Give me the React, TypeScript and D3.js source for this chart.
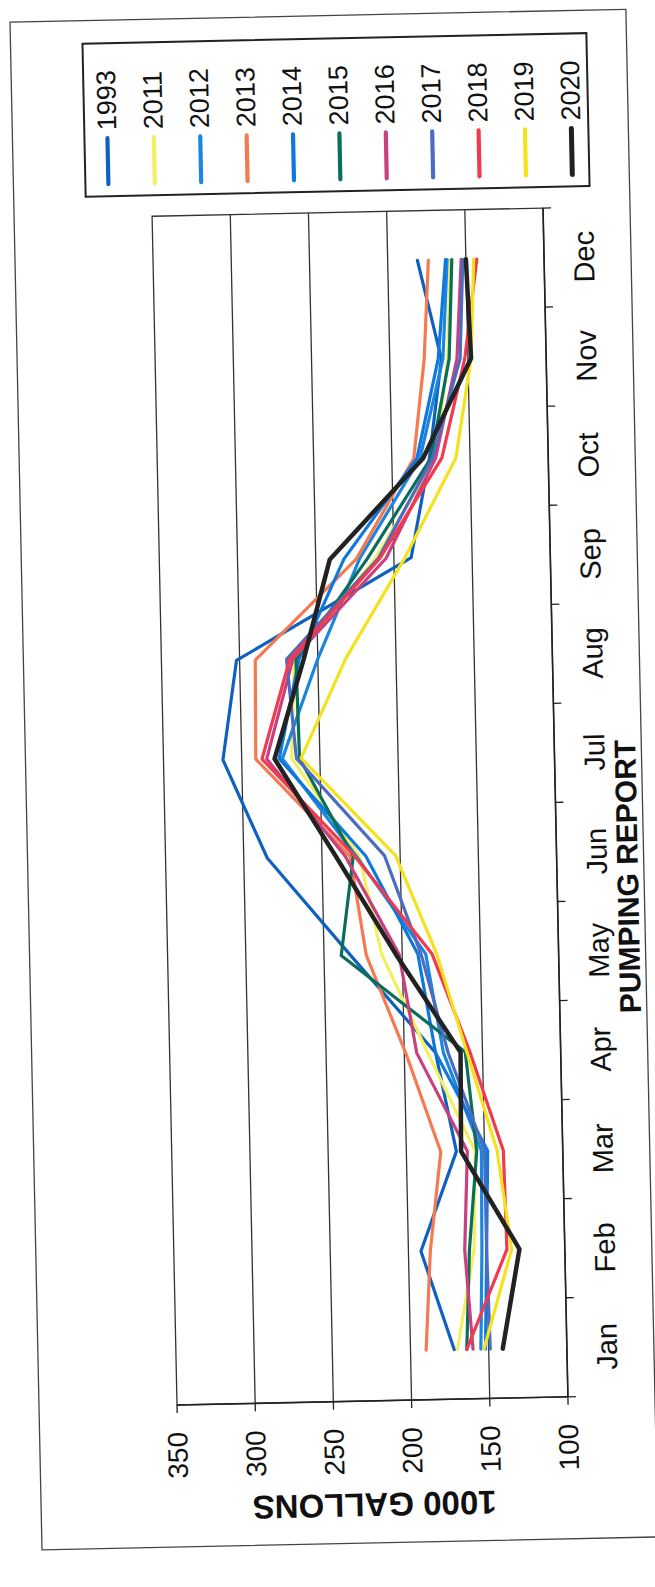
import React from "react";
import * as d3 from "d3";

const months = ["Jan", "Feb", "Mar", "Apr", "May", "Jun", "Jul", "Aug", "Sep", "Oct", "Nov", "Dec"];
const seriesNames = ["1993", "2011", "2012", "2013", "2014", "2015", "2016", "2017", "2018", "2019", "2020"];
const seriesColors = ["#1060c0", "#f2f060", "#1a86e0", "#f57a52", "#0f78dc", "#0b6e5a", "#c8407e", "#4b6cbf", "#f23a4e", "#f5e21c", "#222222"];

const v1993 = [172, 192, 168, 180, 233, 285, 312, 302, 189, 176, 167, 181];
const v2011 = [170, 158, 156, 185, 213, 226, 268, 265, 212, 172, 163, 160];
const v2012 = [155, 153, 152, 175, 185, 228, 274, 250, 222, 182, 166, 162];
const v2013 = [190, 186, 178, 199, 223, 232, 291, 290, 224, 186, 178, 174];
const v2014 = [152, 150, 148, 180, 190, 222, 276, 262, 232, 184, 169, 163];
const v2015 = [164, 161, 155, 161, 239, 230, 263, 264, 217, 175, 162, 159];
const v2016 = [160, 164, 161, 192, 202, 235, 284, 266, 205, 172, 157, 153];
const v2017 = [149, 150, 150, 172, 188, 210, 265, 270, 210, 174, 155, 152];
const v2018 = [164, 137, 138, 158, 181, 229, 287, 268, 209, 168, 152, 143];
const v2019 = [153, 134, 142, 160, 178, 203, 262, 232, 193, 159, 148, 145];
const v2020 = [141, 129, 165, 164, 204, 241, 279, 259, 241, 180, 148, 150];

const seriesValues = [v1993, v2011, v2012, v2013, v2014, v2015, v2016, v2017, v2018, v2019, v2020];
const valueTicks = [100, 150, 200, 250, 300, 350];
const gridValues = [150, 200, 250, 300];

const FONT = "'Liberation Sans', Arial, sans-serif";

export default function App() {
  const W = 655;
  const H = 1587;
  const OX = 177;
  const OY = 1405;
  const ANGLE = -91.2;
  const PW = 1189;
  const PH = 391;

  const x = d3.scaleBand<string>().domain(months).range([0, PW]);
  const y = d3.scaleLinear().domain([100, 350]).range([PH, 0]);
  const cx = (i: number) => (x(months[i]) as number) + x.bandwidth() / 2;
  const line = d3
    .line<number>()
    .x((_, i) => cx(i))
    .y((d) => y(d));

  const boundaries = d3.range(0, months.length + 1).map((i) => i * x.bandwidth());
  const legendStep = 46.4;
  const legendW0 = -43;

  return (
    <svg
      width={W}
      height={H}
      style={{ position: "absolute", left: 0, top: 0, display: "block", background: "#fff" }}
      fontFamily={FONT}
    >
      <rect x={0} y={0} width={W} height={H} fill="#fff" />
      <g transform={`translate(${OX},${OY}) rotate(${ANGLE})`}>
        {/* chart frame */}
        <rect x={-142} y={-138} width={1386 + 142} height={478 + 138} fill="none" stroke="#444" strokeWidth={1.3} />

        {/* plot area */}
        <rect x={0} y={0} width={PW} height={PH} fill="#fff" stroke="#333" strokeWidth={1.3} />
        {gridValues.map((v) => (
          <line key={v} x1={0} x2={PW} y1={y(v)} y2={y(v)} stroke="#333" strokeWidth={1.3} />
        ))}
        {/* category axis */}
        <line x1={0} x2={PW} y1={PH} y2={PH} stroke="#222" strokeWidth={1.6} />
        {boundaries.map((b, i) => (
          <line key={i} x1={b} x2={b} y1={PH} y2={PH + 8} stroke="#222" strokeWidth={1.3} />
        ))}
        {months.map((m, i) => (
          <text key={m} x={cx(i)} y={PH + 50} textAnchor="middle" fontSize={29} fill="#111">
            {m}
          </text>
        ))}
        {/* value axis */}
        <line x1={0} x2={0} y1={0} y2={PH} stroke="#222" strokeWidth={1.6} />
        {valueTicks.map((v) => (
          <g key={v}>
            <line x1={-8} x2={0} y1={y(v)} y2={y(v)} stroke="#222" strokeWidth={1.3} />
            <text x={-27} y={y(v)} textAnchor="end" dominantBaseline="central" fontSize={28} fill="#111">
              {v}
            </text>
          </g>
        ))}
        <text
          transform={`translate(-104,${PH / 2}) rotate(-90)`}
          textAnchor="middle"
          dominantBaseline="central"
          fontSize={33}
          fontWeight="bold"
          fill="#111"
        >
          1000 GALLONS
        </text>

        {/* series */}
        {seriesValues.map((vals, k) => (
          <path
            key={seriesNames[k]}
            d={line(vals) || ""}
            fill="none"
            stroke={seriesColors[k]}
            strokeWidth={seriesNames[k] === "2020" ? 4.5 : 3.2}
            strokeLinejoin="round"
            strokeLinecap="round"
          />
        ))}

        {/* legend */}
        <rect x={1210} y={-66} width={1363 - 1210} height={438 + 66} fill="#fff" stroke="#222" strokeWidth={2} />
        {seriesNames.map((name, k) => {
          const wy = legendW0 + k * legendStep;
          return (
            <g key={name}>
              <line
                x1={1222}
                x2={1268}
                y1={wy}
                y2={wy}
                stroke={seriesColors[k]}
                strokeWidth={name === "2020" ? 5 : 4.2}
                strokeLinecap="round"
              />
              <text x={1276} y={wy} dominantBaseline="central" fontSize={27} fill="#111">
                {name}
              </text>
            </g>
          );
        })}

        {/* page title */}
        <text x={519} y={472} textAnchor="middle" fontSize={30} fontWeight="bold" fill="#111">
          PUMPING REPORT
        </text>
      </g>
    </svg>
  );
}
